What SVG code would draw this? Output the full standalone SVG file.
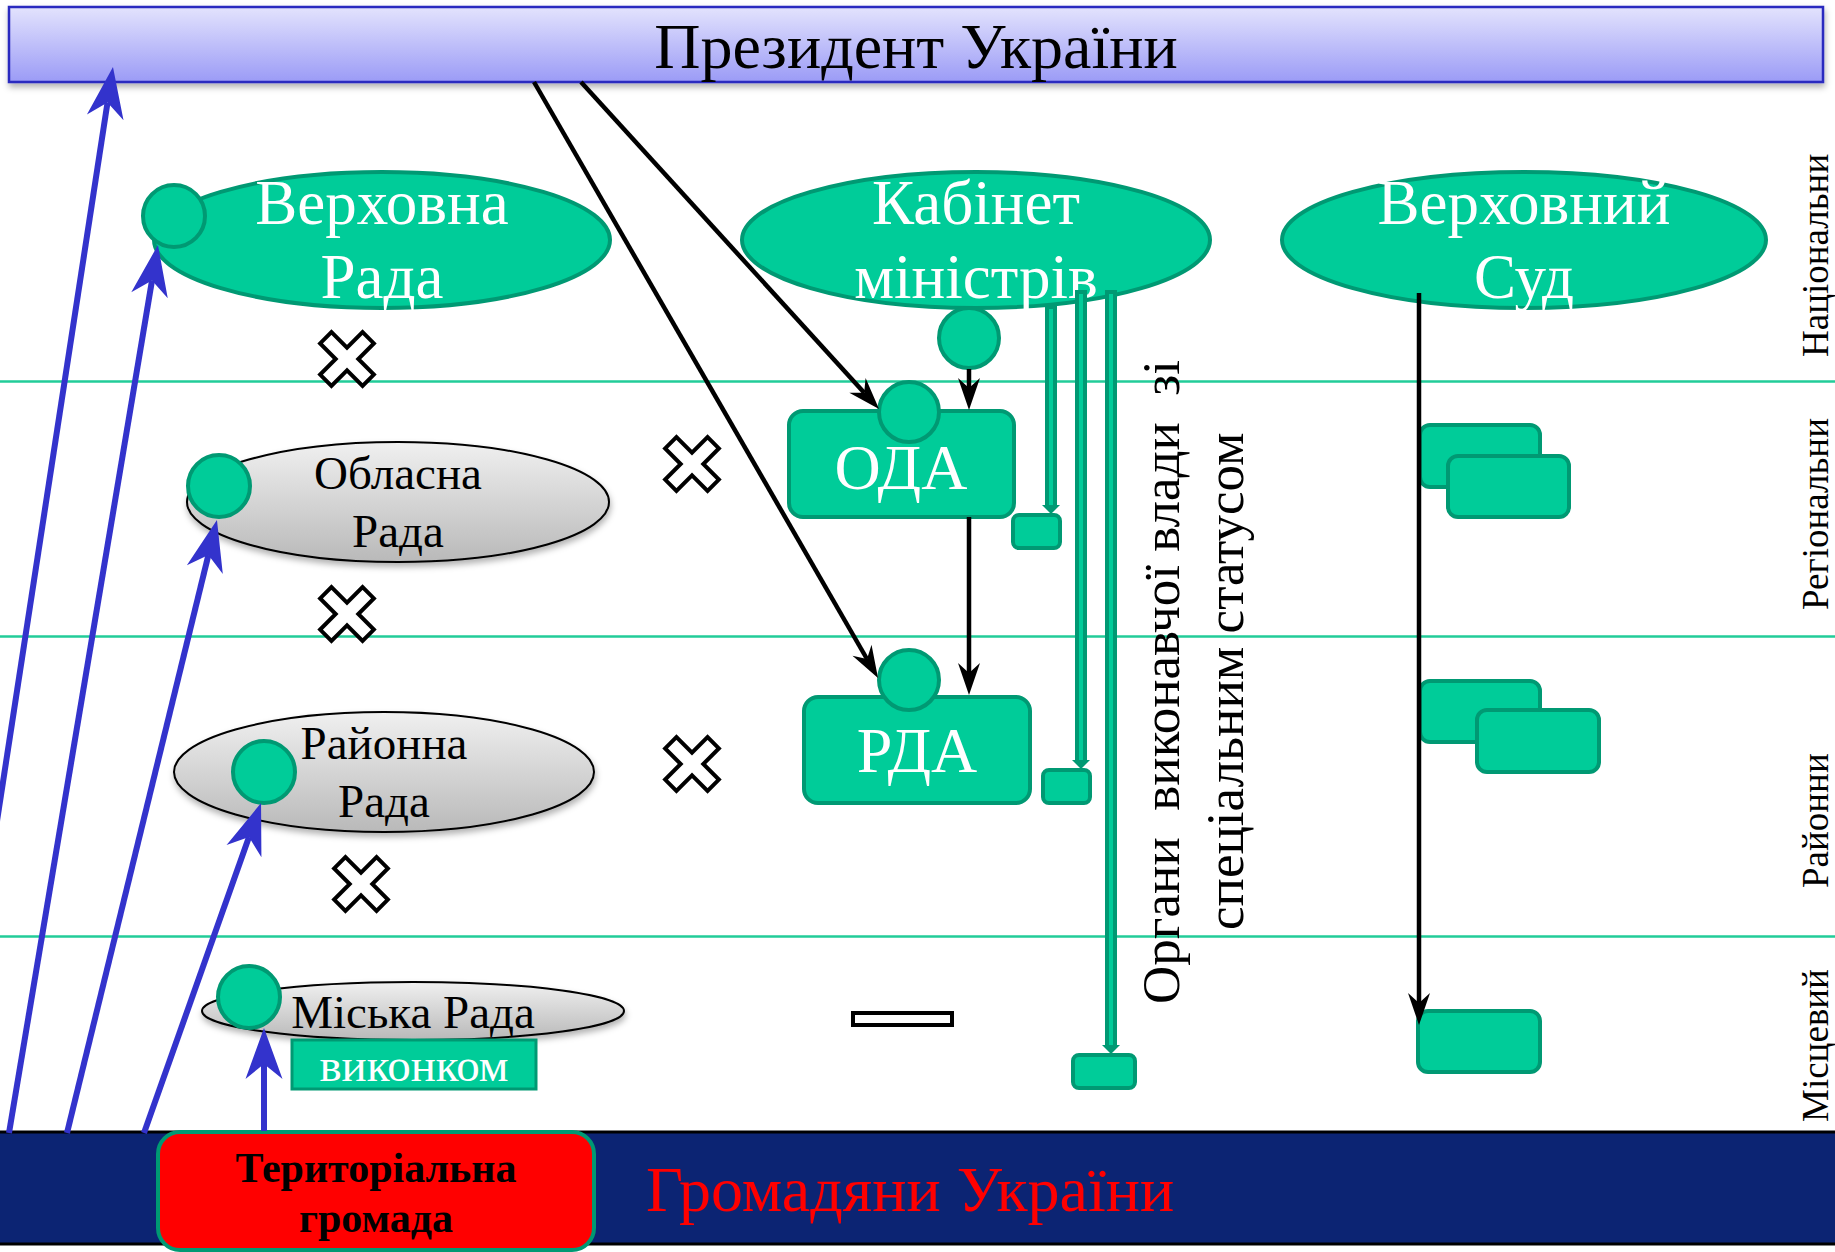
<svg xmlns="http://www.w3.org/2000/svg" width="1835" height="1252" viewBox="0 0 1835 1252">
<style>
.t{font-family:"Liberation Serif","Times New Roman",serif;}
.w{fill:#ffffff;}
.k{fill:#000000;}
.gf{fill:#00cc99;stroke:#009973;stroke-width:4;}
.gr{fill:url(#gGray);stroke:#000000;stroke-width:2;filter:url(#shadow);}
.sep{stroke:#22cc99;stroke-width:2.5;fill:none;}
.blue{stroke:#3333cc;stroke-width:6;fill:none;marker-end:url(#arrBlue);}
.blk{stroke:#000000;stroke-width:4.5;fill:none;marker-end:url(#arrBlack);}
.dblo{stroke:#009973;stroke-width:12;fill:none;}
.dbli{stroke:#00cc99;stroke-width:4;fill:none;}
.xm{fill:#ffffff;stroke:#000000;stroke-width:4;stroke-linejoin:miter;}
</style>
<defs>
<linearGradient id="gPres" x1="0" y1="0" x2="0" y2="1"><stop offset="0" stop-color="#e3e3fd"/><stop offset="1" stop-color="#9b9bf6"/></linearGradient>
<linearGradient id="gGray" x1="0" y1="0" x2="0" y2="1"><stop offset="0" stop-color="#f0f0f0"/><stop offset="1" stop-color="#b9b9b9"/></linearGradient>
<filter id="shadow" x="-10%" y="-20%" width="120%" height="160%"><feDropShadow dx="1" dy="4" stdDeviation="3" flood-color="#000000" flood-opacity="0.3"/></filter>
<marker id="arrBlue" viewBox="-53 -20 55 40" markerWidth="55" markerHeight="40" refX="-36" refY="0" orient="auto" markerUnits="userSpaceOnUse"><path d="M0,0 L-51,-18.5 L-36,0 L-51,18.5 Z" fill="#3333cc"/></marker>
<marker id="arrBlack" viewBox="-34 -13 36 26" markerWidth="36" markerHeight="26" refX="-22" refY="0" orient="auto" markerUnits="userSpaceOnUse"><path d="M0,0 L-32,-11 L-22,0 L-32,11 Z" fill="#000000"/></marker>
<path id="xshape" d="M8,8 L8,30 L-8,30 L-8,8 L-30,8 L-30,-8 L-8,-8 L-8,-30 L8,-30 L8,-8 L30,-8 L30,8 Z"/>
</defs>

<rect x="0" y="0" width="1835" height="1252" fill="#ffffff"/>

<g id="separators">
<line class="sep" x1="0" y1="381.5" x2="1835" y2="381.5"/>
<line class="sep" x1="0" y1="636.5" x2="1835" y2="636.5"/>
<line class="sep" x1="0" y1="936.5" x2="1835" y2="936.5"/>
</g>

<g id="citizens">
<rect x="-2" y="1132" width="1839" height="112" fill="#0c2473" stroke="#000000" stroke-width="3"/>
<text class="t" x="646" y="1211" font-size="64" fill="#ff0000">Громадяни України</text>
</g>

<g id="president">
<rect x="9" y="7" width="1814" height="75" fill="url(#gPres)" stroke="#2b2bbf" stroke-width="2.5" filter="url(#shadow)"/>
<text class="t k" x="916" y="68" font-size="64" text-anchor="middle">Президент України</text>
</g>

<g id="verkhovna-rada">
<ellipse class="gf" cx="382" cy="240" rx="228" ry="68"/>
<text class="t w" x="382" y="224" font-size="63" text-anchor="middle">Верховна</text>
<text class="t w" x="382" y="298" font-size="63" text-anchor="middle">Рада</text>
<circle class="gf" cx="174" cy="216" r="31"/>
</g>

<g id="kabinet">
<ellipse class="gf" cx="976" cy="240" rx="234" ry="68"/>
<text class="t w" x="976" y="224" font-size="63" text-anchor="middle">Кабінет</text>
<text class="t w" x="976" y="298" font-size="63" text-anchor="middle">міністрів</text>
</g>
<g id="kabinet-circle"><circle class="gf" cx="969" cy="338" r="30"/></g>

<g id="verkhovnyi-sud">
<ellipse class="gf" cx="1524" cy="240" rx="242" ry="68"/>
<text class="t w" x="1524" y="224" font-size="63" text-anchor="middle">Верховний</text>
<text class="t w" x="1524" y="298" font-size="63" text-anchor="middle">Суд</text>
</g>

<g id="oblasna-rada">
<ellipse class="gr" cx="398" cy="502" rx="211" ry="60"/>
<text class="t k" x="398" y="489" font-size="47" text-anchor="middle">Обласна</text>
<text class="t k" x="398" y="547" font-size="47" text-anchor="middle">Рада</text>
<circle class="gf" cx="219" cy="486" r="31"/>
</g>

<g id="raionna-rada">
<ellipse class="gr" cx="384" cy="772" rx="210" ry="60"/>
<text class="t k" x="384" y="759" font-size="47" text-anchor="middle">Районна</text>
<text class="t k" x="384" y="817" font-size="47" text-anchor="middle">Рада</text>
<circle class="gf" cx="264" cy="772" r="31"/>
</g>

<g id="miska-rada">
<ellipse class="gr" cx="413" cy="1011" rx="211" ry="29"/>
<text class="t k" x="413" y="1028" font-size="47" text-anchor="middle">Міська Рада</text>
<circle class="gf" cx="249" cy="997" r="31"/>
</g>

<g id="vykonkom">
<rect x="292" y="1040" width="244" height="49" fill="#00cc99" stroke="#009973" stroke-width="3"/>
<text class="t w" x="414" y="1081" font-size="47" text-anchor="middle">виконком</text>
</g>

<g id="teritorialna-hromada">
<rect x="158" y="1132" width="436" height="118" rx="22" fill="#ff0000" stroke="#009973" stroke-width="4"/>
<text class="t k" x="376" y="1182" font-size="42" font-weight="bold" text-anchor="middle">Територіальна</text>
<text class="t k" x="376" y="1232" font-size="42" font-weight="bold" text-anchor="middle">громада</text>
</g>

<g id="oda">
<rect class="gf" x="789" y="411" width="225" height="106" rx="14"/>
<text class="t w" x="901" y="489" font-size="64" text-anchor="middle">ОДА</text>
<circle class="gf" cx="909" cy="412" r="30"/>
</g>

<g id="rda">
<rect class="gf" x="804" y="697" width="226" height="106" rx="14"/>
<text class="t w" x="917" y="772" font-size="64" text-anchor="middle">РДА</text>
<circle class="gf" cx="909" cy="680" r="30"/>
</g>

<g id="special-small-1"><rect class="gf" x="1013" y="515" width="47" height="33" rx="6" stroke-width="3.5"/></g>
<g id="special-small-2"><rect class="gf" x="1043" y="770" width="47" height="33" rx="6" stroke-width="3.5"/></g>
<g id="special-small-3"><rect class="gf" x="1073" y="1055" width="62" height="33" rx="6" stroke-width="3.5"/></g>

<g id="court-regional">
<rect class="gf" x="1420" y="425" width="120" height="62" rx="10"/>
<rect class="gf" x="1448" y="456" width="121" height="61" rx="10"/>
</g>
<g id="court-district">
<rect class="gf" x="1420" y="681" width="120" height="61" rx="10"/>
<rect class="gf" x="1477" y="710" width="122" height="62" rx="10"/>
</g>
<g id="court-local">
<rect class="gf" x="1418" y="1011" width="122" height="61" rx="10"/>
</g>

<g id="special-status-label">
<text class="t k" font-size="53" transform="translate(1179,1004) rotate(-90)" xml:space="preserve">Органи  виконавчої влади  зі</text>
<text class="t k" font-size="53" transform="translate(1243,930) rotate(-90)">спеціальним статусом</text>
</g>

<g id="level-labels">
<text class="t k" font-size="37" transform="translate(1828,357) rotate(-90)">Національни</text>
<text class="t k" font-size="37" transform="translate(1828,610) rotate(-90)">Регіональни</text>
<text class="t k" font-size="37" transform="translate(1828,888) rotate(-90)">Районни</text>
<text class="t k" font-size="37" transform="translate(1828,1122) rotate(-90)">Місцевий</text>
</g>

<g id="no-subordination-marks">
<use href="#xshape" class="xm" transform="translate(347,359) rotate(45)"/>
<use href="#xshape" class="xm" transform="translate(692,464) rotate(45)"/>
<use href="#xshape" class="xm" transform="translate(347,614) rotate(45)"/>
<use href="#xshape" class="xm" transform="translate(692,764) rotate(45)"/>
<use href="#xshape" class="xm" transform="translate(361,884) rotate(45)"/>
<rect x="853" y="1013" width="99" height="12" fill="#ffffff" stroke="#000000" stroke-width="4"/>
</g>

<g id="connectors">
<line class="blue" x1="-51" y1="1133" x2="107.5" y2="102.6"/>
<line class="blue" x1="9" y1="1133" x2="152" y2="280.5"/>
<line class="blue" x1="67" y1="1133" x2="208.4" y2="555"/>
<line class="blue" x1="144" y1="1133" x2="249" y2="837"/>
<line class="blue" x1="264" y1="1131" x2="264" y2="1064"/>

<line class="blk" x1="581" y1="82" x2="864.2" y2="392.7"/>
<line class="blk" x1="534" y1="82" x2="867" y2="659"/>
<line class="blk" x1="969" y1="369" x2="969" y2="388"/>
<line class="blk" x1="969" y1="517" x2="969" y2="673"/>
<line class="blk" x1="1419" y1="293" x2="1419" y2="1003" stroke-width="4"/>

<line class="dblo" x1="1051" y1="305" x2="1051" y2="508"/>
<line class="dbli" x1="1051" y1="309" x2="1051" y2="505"/>
<path d="M1042,505 L1060,505 L1051,514 Z" fill="#009973"/>
<line class="dblo" x1="1081" y1="290" x2="1081" y2="763"/>
<line class="dbli" x1="1081" y1="294" x2="1081" y2="760"/>
<path d="M1072,760 L1090,760 L1081,769 Z" fill="#009973"/>
<line class="dblo" x1="1111" y1="290" x2="1111" y2="1048"/>
<line class="dbli" x1="1111" y1="294" x2="1111" y2="1045"/>
<path d="M1102,1045 L1120,1045 L1111,1054 Z" fill="#009973"/>
</g>
</svg>
